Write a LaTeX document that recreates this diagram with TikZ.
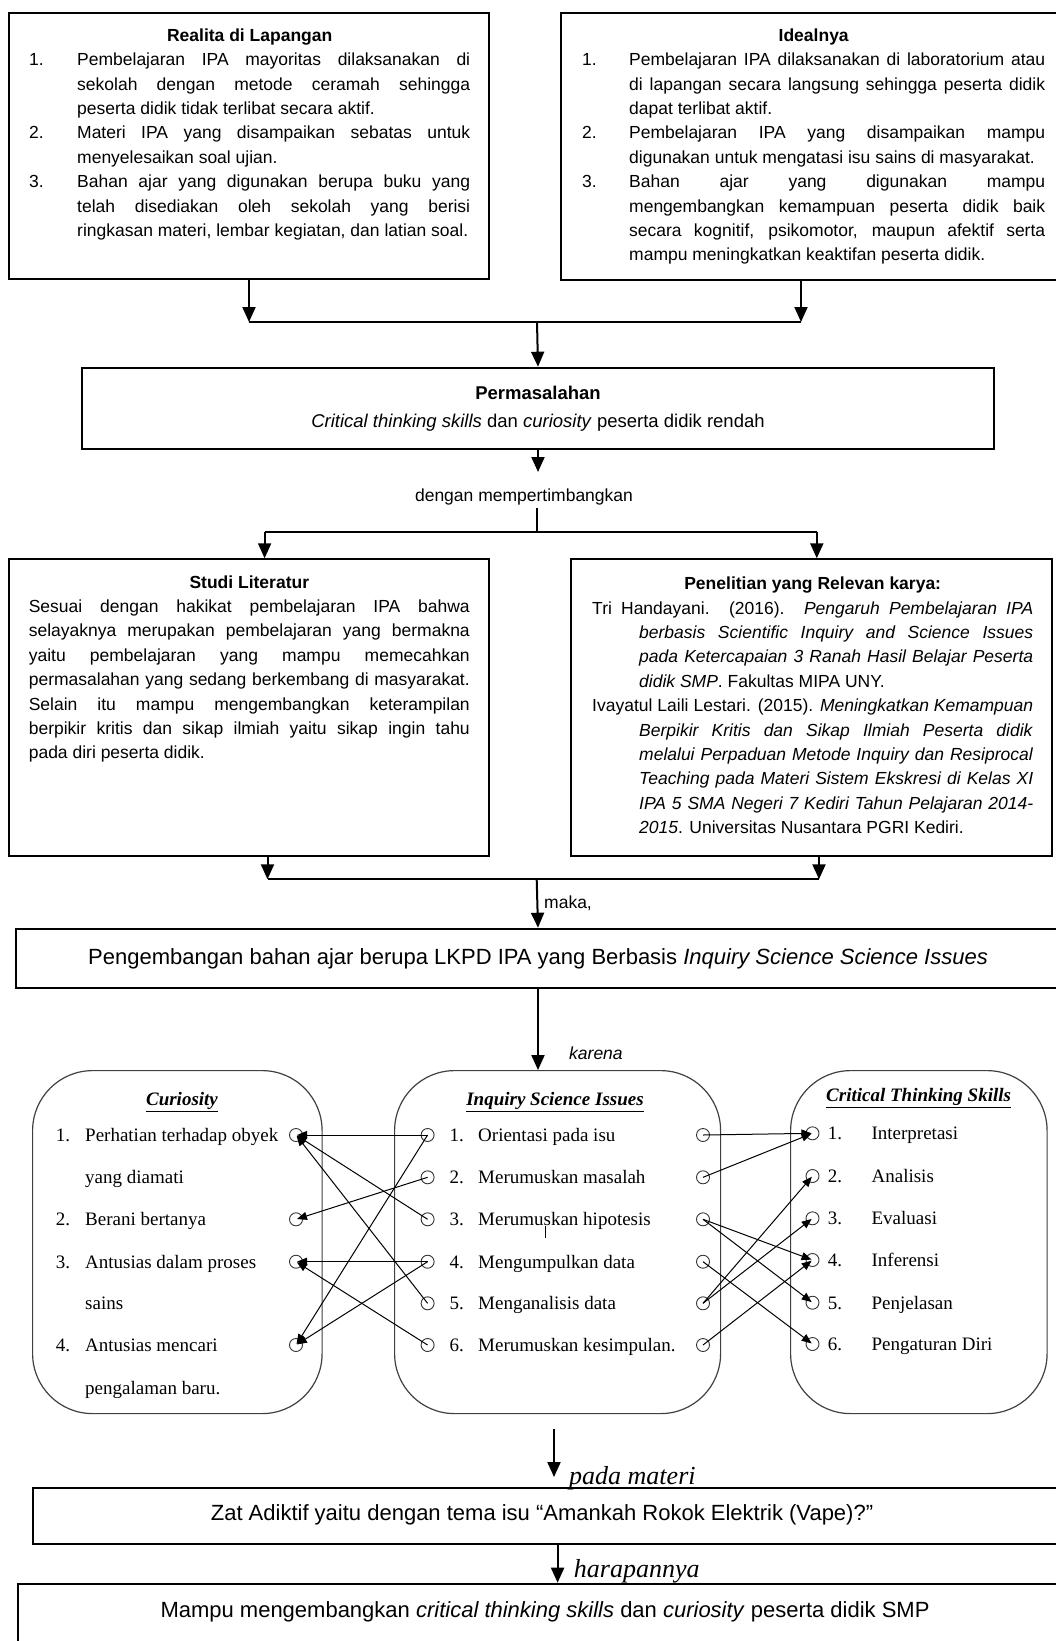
\documentclass[tikz,border=0pt]{standalone}
\usepackage{fontspec}
\setmainfont{Liberation Sans}
\newfontfamily\serifkata{Liberation Serif}
\usetikzlibrary{arrows.meta}
\tolerance=10000
\hyphenpenalty=10000
\newcommand{\ukuran}{\fontsize{17.5}{24.4}\selectfont}
\newcommand{\butir}[3]{\par\noindent\hangindent=#1\hangafter=1\makebox[#1][l]{#2}#3\par}
\newcommand{\rujukan}[1]{\par\noindent\hangindent=47pt\hangafter=1 #1\par}
\tikzset{
  kotak/.style={draw, line width=2pt, inner sep=0pt, anchor=north west},
  kotakbulat/.style={draw=black!75, line width=1.2pt, rounded corners=60pt, inner sep=0pt, anchor=north west},
  panah/.style={line width=2pt, -{Triangle[length=15pt,width=13pt]}},
  garis/.style={line width=2pt},
  teks/.style={inner sep=0pt, anchor=north west, align=justify, font=\ukuran},
  titik/.style={circle, draw=black!80, line width=0.9pt, minimum size=13pt, inner sep=0pt},
  hubung/.style={line width=1pt, -{Triangle[length=10pt,width=8pt]}, shorten >=1pt},
  butirserif/.style={anchor=base west, inner sep=0pt, font=\serifkata\fontsize{19}{22}\selectfont},
  judulserif/.style={inner sep=0pt, font=\serifkata\bfseries\itshape\fontsize{19}{22}\selectfont}
}
\begin{document}
\begin{tikzpicture}[x=1pt, y=-1pt]
	\useasboundingbox (0,0) rectangle (1056,1641);

	% realita dan idealnya
	\node[kotak, minimum width=480pt, minimum height=266.5pt] (realita) at (8,11.7) {};
	\node[kotak, minimum width=540pt, minimum height=267.6pt] (ideal) at (560,11.7) {};
	\node[teks, text width=441pt] (realitateks) at (29,28.5) {\makebox[\hsize]{\bfseries Realita di Lapangan}\par
		\butir{48pt}{1.}{Pembelajaran IPA mayoritas dilaksanakan di\linebreak sekolah dengan metode ceramah sehingga\linebreak peserta didik tidak terlibat secara aktif.}
		\butir{48pt}{2.}{Materi IPA yang disampaikan sebatas untuk\linebreak menyelesaikan soal ujian.}
		\butir{48pt}{3.}{Bahan ajar yang digunakan berupa buku yang\linebreak telah disediakan oleh sekolah yang berisi\linebreak ringkasan materi, lembar kegiatan, dan latian soal.}};
	\node[teks, text width=463pt] (idealteks) at (582,28.5) {\makebox[\hsize]{\bfseries Idealnya}\par
		\butir{47pt}{1.}{Pembelajaran IPA dilaksanakan di laboratorium atau\linebreak di lapangan secara langsung sehingga peserta didik\linebreak dapat terlibat aktif.}
		\butir{47pt}{2.}{Pembelajaran IPA yang disampaikan mampu\linebreak digunakan untuk mengatasi isu sains di masyarakat.}
		\butir{47pt}{3.}{Bahan ajar yang digunakan mampu\linebreak mengembangkan kemampuan peserta didik baik\linebreak secara kognitif, psikomotor, maupun afektif serta\linebreak mampu meningkatkan keaktifan peserta didik.}};

	% ke permasalahan
	\coordinate (jatas) at (537,322);
	\coordinate (idealbawah) at (801,279.3);
	\node[kotak, minimum width=912pt, minimum height=81.6pt, align=center, font=\fontsize{18.5}{28.4}\selectfont] (masalah) at (81,366.7) {\textbf{Permasalahan}\\\textit{Critical thinking skills} dan \textit{curiosity} peserta didik rendah};
	\draw[panah] (realita.south) -- (realita.south |- jatas);
	\draw[panah] (idealbawah) -- (idealbawah |- jatas);
	\draw[garis] (realita.south |- jatas) -- (idealbawah |- jatas);
	\draw[panah] (jatas) -- (masalah.north);

	% dengan mempertimbangkan
	\node[font=\ukuran] (timbang) at (524,496.7) {dengan mempertimbangkan};
	\coordinate (jtengah) at (537,531.7);
	\coordinate (studiatas) at (264.6,531.7);
	\coordinate (relevanatas) at (816.8,531.7);
	\draw[panah] (masalah.south) -- ++(0,21.7);
	\draw[garis] (timbang.south -| jtengah) -- (jtengah);
	\draw[garis] (studiatas) -- (relevanatas);

	% studi literatur dan penelitian relevan
	\node[kotak, minimum width=479.6pt, minimum height=296.7pt] (studi) at (8.4,558.3) {};
	\node[kotak, minimum width=480.6pt, minimum height=296.7pt] (relevan) at (570,558.3) {};
	\draw[panah] (studiatas) -- (studiatas |- studi.north);
	\draw[panah] (relevanatas) -- (relevanatas |- relevan.north);
	\node[teks, text width=441pt] (studiteks) at (28.6,575.2) {\makebox[\hsize]{\bfseries Studi Literatur}\par\noindent
		Sesuai dengan hakikat pembelajaran IPA bahwa\linebreak selayaknya merupakan pembelajaran yang bermakna\linebreak yaitu pembelajaran yang mampu memecahkan\linebreak permasalahan yang sedang berkembang di masyarakat.\linebreak Selain itu mampu mengembangkan keterampilan\linebreak berpikir kritis dan sikap ilmiah yaitu sikap ingin tahu\linebreak pada diri peserta didik.};
	\node[teks, text width=441pt] (relevanteks) at (592,576.9) {\makebox[\hsize]{\bfseries Penelitian yang Relevan karya:}\par
		\rujukan{Tri Handayani. (2016). \textit{Pengaruh Pembelajaran IPA}\linebreak \textit{berbasis Scientific Inquiry and Science Issues}\linebreak \textit{pada Ketercapaian 3 Ranah Hasil Belajar Peserta}\linebreak \textit{didik SMP}. Fakultas MIPA UNY.}
		\rujukan{Ivayatul Laili Lestari. (2015). \textit{Meningkatkan Kemampuan}\linebreak \textit{Berpikir Kritis dan Sikap Ilmiah Peserta didik}\linebreak \textit{melalui Perpaduan Metode Inquiry dan Resiprocal}\linebreak \textit{Teaching pada Materi Sistem Ekskresi di Kelas XI}\linebreak \textit{IPA 5 SMA Negeri 7 Kediri Tahun Pelajaran 2014-}\linebreak \textit{2015}. Universitas Nusantara PGRI Kediri.}};

	% maka, pengembangan
	\coordinate (studikeluar) at (267.5,855);
	\coordinate (relevankeluar) at (819,855);
	\coordinate (jbawah) at (536.7,879.3);
	\node[kotak, minimum width=1044.4pt, minimum height=59.6pt, font=\fontsize{22}{26}\selectfont] (kembang) at (14.8,927.7) {Pengembangan bahan ajar berupa LKPD IPA yang Berbasis \textit{Inquiry Science Science Issues}};
	\draw[panah] (studikeluar) -- (studikeluar |- jbawah);
	\draw[panah] (relevankeluar) -- (relevankeluar |- jbawah);
	\draw[garis] (studikeluar |- jbawah) -- (relevankeluar |- jbawah);
	\draw[panah] (jbawah) -- (kembang.north);
	\node[anchor=west, inner sep=0pt, font=\ukuran] (maka) at (544,903.3) {maka,};

	% tiga kotak bulat
	\node[kotakbulat, minimum width=289.5pt, minimum height=343pt] (cur) at (32,1070) {};
	\node[kotakbulat, minimum width=326pt, minimum height=343pt] (inq) at (394,1070) {};
	\node[kotakbulat, minimum width=256.5pt, minimum height=343pt] (cts) at (790,1070) {};
	\draw[panah] (kembang.south) -- (kembang.south |- inq.north);
	\node[anchor=west, inner sep=0pt, font=\ukuran\itshape] (karena) at (569,1053.3) {karena};

	\node[judulserif] (curjudul) at (182,1101.7) {\underline{Curiosity}};
	\node[judulserif] (inqjudul) at (555,1101.7) {\underline{Inquiry Science Issues}};
	\node[judulserif] (ctsjudul) at (918.6,1098.3) {\underline{Critical Thinking Skills}};

	\foreach \i/\y/\n/\t in {1/1135/1./Perhatian terhadap obyek, 2/1177.3//yang diamati, 3/1219.3/2./Berani bertanya, 4/1261.7/3./Antusias dalam proses, 5/1303.3//sains, 6/1345/4./Antusias mencari, 7/1388.3//pengalaman baru.}{
		\node[butirserif] (curno\i) at (55.6,\y+6.3) {\n};
		\node[butirserif] (curteks\i) at (85,\y+6.3) {\t};
	}
	\foreach \i/\y in {1/1135, 2/1219.3, 3/1261.7, 4/1345}
		\node[titik] (c\i) at (296,\y) {};

	\foreach \i/\y/\t in {1/1135/Orientasi pada isu, 2/1177.3/Merumuskan masalah, 3/1219.3/Merumuskan hipotesis, 4/1261.7/Mengumpulkan data, 5/1303.3/Menganalisis data, 6/1345/Merumuskan kesimpulan.}{
		\node[titik] (ik\i) at (427.6,\y) {};
		\node[titik] (ia\i) at (703,\y) {};
		\node[butirserif] (inqno\i) at (449.5,\y+6.3) {\i.};
		\node[butirserif] (inqteks\i) at (478,\y+6.3) {\t};
	}
	\draw[line width=0.6pt] (545,1226) -- (545,1238);

	\foreach \i/\y/\t in {1/1133.3/Interpretasi, 2/1176/Analisis, 3/1218.3/Evaluasi, 4/1260/Inferensi, 5/1302.7/Penjelasan, 6/1344/Pengaturan Diri}{
		\node[titik] (t\i) at (812.5,\y) {};
		\node[butirserif] (ctsno\i) at (827.7,\y+6.3) {\i.};
		\node[butirserif] (ctsteks\i) at (871.4,\y+6.3) {\t};
	}

	% panah antar indikator
	\foreach \a/\b in {1/1, 1/4, 2/2, 3/1, 4/3, 4/4, 5/1, 6/3}
		\draw[hubung] (ik\a.center) -- (c\b.center);
	\foreach \a/\b in {1/1, 2/1, 3/4, 3/5, 4/6, 5/2, 5/3, 6/4}
		\draw[hubung] (ia\a.center) -- (t\b.center);

	% pada materi, harapannya
	\coordinate (bawahinq) at (554,1429);
	\coordinate (bawahujung) at (554,1477);
	\node[kotak, minimum width=1040pt, minimum height=56.6pt] (zat) at (32.3,1486.7) {};
	\node[font=\fontsize{22}{26}\selectfont] (zatteks) at (542,1515) {Zat Adiktif yaitu dengan tema isu “Amankah Rokok Elektrik (Vape)?”};
	\draw[panah] (bawahinq) -- (bawahujung);
	\node[anchor=base west, inner sep=0pt, font=\serifkata\itshape\fontsize{26}{26}\selectfont] (padamateri) at (569,1484) {pada materi};

	\coordinate (zatkeluar) at (557.6,1543.3);
	\node[kotak, minimum width=1060pt, minimum height=80pt] (akhir) at (16.8,1582.7) {};
	\draw[panah] (zatkeluar) -- (zatkeluar |- akhir.north);
	\node[anchor=base west, inner sep=0pt, font=\serifkata\itshape\fontsize{26}{26}\selectfont] (harapan) at (573.7,1577) {harapannya};
	\node[font=\fontsize{22}{26}\selectfont] (akhirteks) at (545,1611.7) {Mampu mengembangkan \textit{critical thinking skills} dan \textit{curiosity} peserta didik SMP};

\end{tikzpicture}
\end{document}
